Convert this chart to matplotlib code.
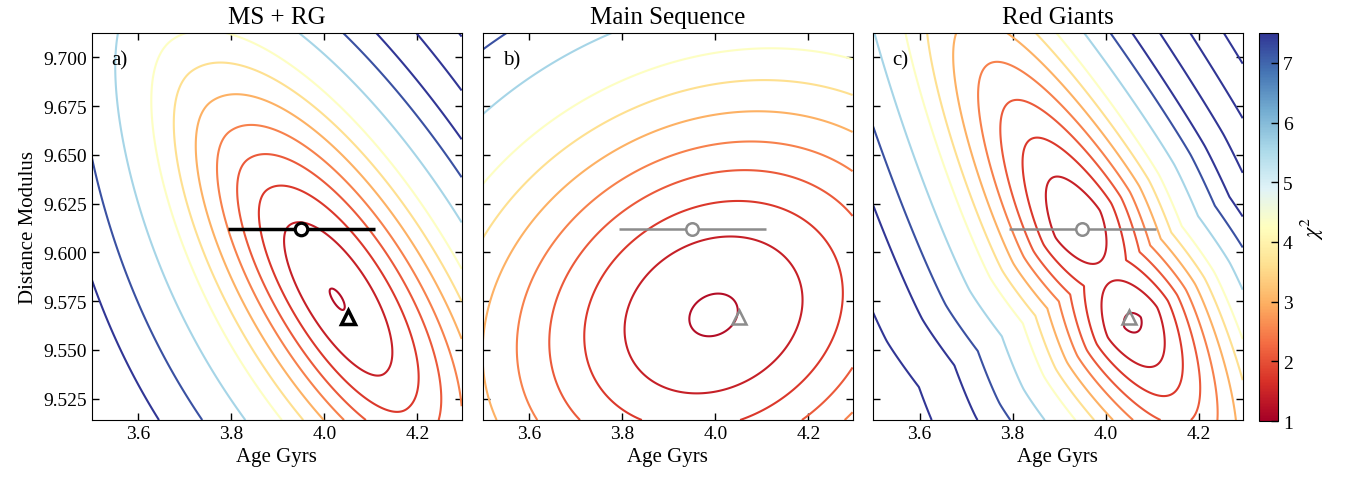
import numpy as np
import matplotlib
matplotlib.use('Agg')
import matplotlib.pyplot as plt
from matplotlib.colors import Normalize
from matplotlib.cm import ScalarMappable

plt.rcParams['font.family'] = ['Liberation Serif', 'DejaVu Serif']
plt.rcParams['mathtext.fontset'] = 'stix'

# --- data ---
titles = ['MS + RG', 'Main Sequence', 'Red Giants']
tags = ['a)', 'b)', 'c)']

# contour levels of chi^2
levels = [1.2, 1.45, 1.75, 2.1, 2.5, 3.0, 3.6, 4.3, 5.6, 7.2, 8.8, 11.2, 14.3, 18.3, 23.4, 30.0]

# shape of the chi^2 valley in each panel
# lengths are in grid units of 0.1 Gyr (age) and 0.025 mag (distance modulus)
AGE_UNIT, DM_UNIT = 0.1, 0.025
chi2_floor = [1.195, 1.18, 1.195]
floor_tilt = [0.0, 0.0, 0.035]
valley_age = [4.027, 3.996, 3.999]
valley_dm = [9.5759, 9.5679, 9.5894]
valley_angle = [-56.4, 23.7, -59.7]     # degrees
valley_half_sep = [0.0, 0.0, 1.17]      # two minima in the red giant fit
width_up = [3.63, 3.81, 3.20]
width_down = [3.63, 3.81, 2.48]
width_across_hi = [1.48, 2.94, 1.15]
width_across_lo = [1.23, 2.94, 1.15]
across_flatten_lo = [7.0, 0.0, 10.0]    # chi^2 flattens towards the lower left
valley_power = [2.0, 2.0, 1.4]

# best fit (circle, with age error) and second solution (triangle)
best_age, best_dm, best_age_err = 3.95, 9.612, 0.158
alt_age, alt_dm = 4.05, 9.567

age_range = (3.5, 4.295)
dm_range = (9.514, 9.7125)


def chi2_surface(i, A, D):
    u = (A - valley_age[i]) / AGE_UNIT
    v = (D - valley_dm[i]) / DM_UNIT
    th = np.radians(valley_angle[i])
    t = u * np.cos(th) + v * np.sin(th)
    n = -u * np.sin(th) + v * np.cos(th)
    t0 = valley_half_sep[i]
    s = np.where(t < -t0, width_up[i], width_down[i])
    along = (np.abs(np.abs(t) - t0) / s) ** valley_power[i]
    across = np.where(n >= 0, (n / width_across_hi[i]) ** 2,
                      (n / width_across_lo[i]) ** 2)
    sat = across_flatten_lo[i]
    if sat > 0:
        across = np.where(n >= 0, across, sat * np.log1p(across / sat))
    floor = chi2_floor[i]
    if t0 > 0:
        floor = floor - floor_tilt[i] * np.tanh(t / t0)
    return floor + along + across


ages = np.linspace(age_range[0], age_range[1], 400)
dms = np.linspace(dm_range[0], dm_range[1], 400)
A, D = np.meshgrid(ages, dms)

norm = Normalize(vmin=1, vmax=7.5)
cmap = plt.get_cmap('RdYlBu')

fig = plt.figure(figsize=(13.49, 4.81), dpi=100)
lefts = [0.0682, 0.3580, 0.6472]
axes = [fig.add_axes([l, 0.1247, 0.2740, 0.8046]) for l in lefts]

for i, ax in enumerate(axes):
    Z = chi2_surface(i, A, D)
    ax.contour(A, D, Z, levels=levels, cmap=cmap, norm=norm, linewidths=1.5)

    if i == 0:
        ax.errorbar(best_age, best_dm, xerr=best_age_err, fmt='o', ms=9,
                    mfc='white', mec='black', mew=2.3, ecolor='black',
                    elinewidth=2.5, zorder=5)
        ax.plot(alt_age, alt_dm, marker='^', ms=10, mfc='none', mec='black',
                mew=2.5, zorder=5)
    else:
        ax.errorbar(best_age, best_dm, xerr=best_age_err, fmt='o', ms=9,
                    mfc='white', mec='#8c8c8c', mew=1.8, ecolor='#8c8c8c',
                    elinewidth=1.8, zorder=5)
        ax.plot(alt_age, alt_dm, marker='^', ms=10, mfc='none', mec='#8c8c8c',
                mew=1.8, zorder=5)

    ax.set_xlim(age_range)
    ax.set_ylim(dm_range)
    ax.set_xticks([3.6, 3.8, 4.0, 4.2])
    ax.set_xticklabels(['3.6', '3.8', '4.0', '4.2'])
    ax.set_yticks(np.arange(9.525, 9.701, 0.025))
    ax.tick_params(direction='in', top=True, right=True, length=5, width=1,
                   labelsize=14)
    if i == 0:
        ax.set_yticklabels(['%.3f' % y for y in np.arange(9.525, 9.701, 0.025)])
        ax.set_ylabel('Distance Modulus', fontsize=15)
    else:
        ax.set_yticklabels([])
    ax.set_xlabel('Age Gyrs', fontsize=15)
    ax.set_title(titles[i], fontsize=18, pad=7)
    ax.text(0.053, 0.93, tags[i], transform=ax.transAxes, fontsize=15,
            ha='left', va='center')

cax = fig.add_axes([0.9333, 0.1226, 0.0141, 0.8067])
sm = ScalarMappable(norm=norm, cmap=cmap)
cb = fig.colorbar(sm, cax=cax)
cb.set_ticks(range(1, 8))
cb.ax.tick_params(direction='in', length=5, width=1, labelsize=14)
cb.set_label(r'$\chi^2$', fontsize=16)

fig.savefig('out.png', dpi=100)
